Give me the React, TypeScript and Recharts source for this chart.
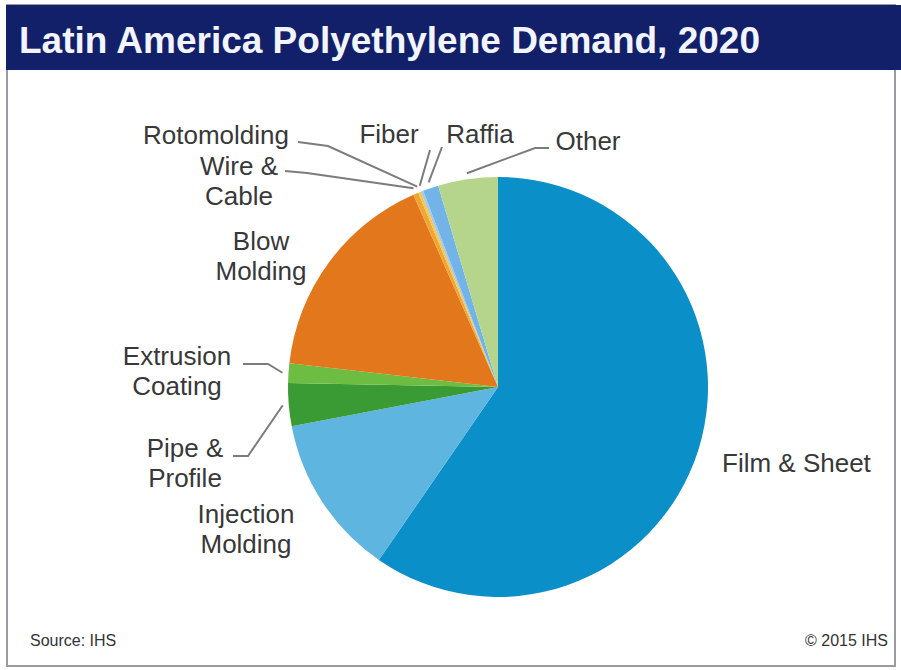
import { PieChart, Pie, Cell } from "recharts";

const segments = [
  "Film & Sheet",
  "Injection Molding",
  "Pipe & Profile",
  "Extrusion Coating",
  "Blow Molding",
  "Wire & Cable",
  "Rotomolding",
  "Fiber",
  "Raffia",
  "Other",
];
// share of demand, %
const shares = [59.6, 12.4, 3.3, 1.5, 16.6, 0.4, 0.2, 0.2, 1.2, 4.6];
const sliceColors = [
  "#0a8fc8",
  "#5db5e0",
  "#3a9a33",
  "#6dbd43",
  "#e2771b",
  "#f0a632",
  "#f6c848",
  "#a9c8e6",
  "#72b4e8",
  "#b5d58d",
];

const data = segments.map((name, i) => ({ name, value: shares[i] }));

const FONT = '"Liberation Sans", Arial, sans-serif';
const RADIAN = Math.PI / 180;

type LabelSpot = {
  x: number;
  y: number;
  anchor: "start" | "middle" | "end";
  lines: string[];
  lead?: [number, number][];
};

// where each label sits, and the bend points of its leader line
const labelSpots: Record<string, LabelSpot> = {
  "Film & Sheet": { x: 722, y: 472, anchor: "start", lines: ["Film & Sheet"] },
  "Injection Molding": { x: 246, y: 523, anchor: "middle", lines: ["Injection", "Molding"] },
  "Pipe & Profile": { x: 185, y: 457, anchor: "middle", lines: ["Pipe &", "Profile"], lead: [[233, 456], [248, 456]] },
  "Extrusion Coating": { x: 177, y: 365, anchor: "middle", lines: ["Extrusion", "Coating"], lead: [[243, 364], [268, 364]] },
  "Blow Molding": { x: 261, y: 250, anchor: "middle", lines: ["Blow", "Molding"] },
  "Wire & Cable": { x: 239, y: 175, anchor: "middle", lines: ["Wire &", "Cable"], lead: [[285, 171], [307, 173]] },
  Rotomolding: { x: 216, y: 144, anchor: "middle", lines: ["Rotomolding"], lead: [[298, 142], [328, 146]] },
  Fiber: { x: 389, y: 143, anchor: "middle", lines: ["Fiber"], lead: [[430, 150]] },
  Raffia: { x: 480, y: 143, anchor: "middle", lines: ["Raffia"], lead: [[442, 147]] },
  Other: { x: 588, y: 150, anchor: "middle", lines: ["Other"], lead: [[549, 148], [535, 148]] },
};

function SliceLabel(props: any) {
  const { cx, cy, midAngle, outerRadius, name } = props;
  const spot = labelSpots[name];
  if (!spot) return null;
  let lead = null;
  if (spot.lead) {
    const r = outerRadius + 6;
    const ex = cx + r * Math.cos(-midAngle * RADIAN);
    const ey = cy + r * Math.sin(-midAngle * RADIAN);
    const pts = [...spot.lead, [ex, ey]].map((p) => p.join(",")).join(" ");
    lead = <polyline points={pts} fill="none" stroke="#7c7c7c" strokeWidth={2} />;
  }
  return (
    <g>
      {lead}
      <text x={spot.x} y={spot.y} textAnchor={spot.anchor} fontSize={26} fill="#383838" fontFamily={FONT}>
        {spot.lines.map((t, i) => (
          <tspan key={i} x={spot.x} dy={i === 0 ? 0 : 30}>
            {t}
          </tspan>
        ))}
      </text>
    </g>
  );
}

export default function App() {
  return (
    <div style={{ position: "absolute", left: 0, top: 0, width: 901, height: 670, background: "#fff", overflow: "hidden" }}>
      <svg width={901} height={670} style={{ position: "absolute", left: 0, top: 0 }}>
        <rect x={7} y={5} width={888} height={661} fill="#fff" stroke="#9a9aa4" strokeWidth={2} />
        <rect x={6} y={5} width={895} height={65} fill="#12206a" />
        <text x={19} y={53} fontSize={37} fontWeight="bold" fill="#f2f4ff" fontFamily={FONT}>
          Latin America Polyethylene Demand, 2020
        </text>
        <text x={30} y={646} fontSize={16} fill="#333" fontFamily={FONT}>
          Source: IHS
        </text>
        <text x={888} y={646} fontSize={16} fill="#333" textAnchor="end" fontFamily={FONT}>
          © 2015 IHS
        </text>
      </svg>
      <div style={{ position: "absolute", left: 0, top: 0 }}>
        <PieChart width={901} height={670} margin={{ top: 0, right: 0, bottom: 0, left: 0 }}>
          <Pie
            data={data}
            dataKey="value"
            nameKey="name"
            cx={498}
            cy={387}
            outerRadius={210}
            startAngle={90}
            endAngle={-270}
            stroke="none"
            label={SliceLabel}
            labelLine={false}
            isAnimationActive={false}
          >
            {data.map((d, i) => (
              <Cell key={d.name} fill={sliceColors[i]} />
            ))}
          </Pie>
        </PieChart>
      </div>
    </div>
  );
}
